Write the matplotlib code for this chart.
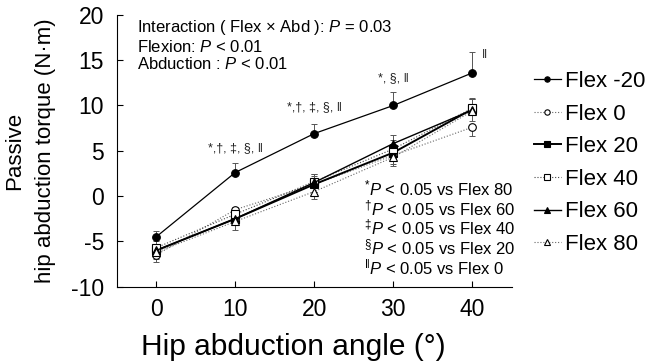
import numpy as np
import matplotlib.pyplot as plt

plt.rcParams['font.family'] = ['Liberation Sans', 'DejaVu Sans']
plt.rcParams['mathtext.fontset'] = 'custom'
plt.rcParams['mathtext.rm'] = 'Liberation Sans'
plt.rcParams['mathtext.it'] = 'Liberation Sans:italic'
plt.rcParams['axes.unicode_minus'] = False

angles = [0, 10, 20, 30, 40]
series = ["Flex -20", "Flex 0", "Flex 20", "Flex 40", "Flex 60", "Flex 80"]

# mean torque (N·m) per flexion condition
means = {
    "Flex -20": [-4.5, 2.6, 6.9, 10.0, 13.6],
    "Flex 0": [-6.5, -1.5, 1.3, 4.5, 7.6],
    "Flex 20": [-6.0, -2.5, 1.3, 4.8, 9.6],
    "Flex 40": [-5.7, -2.0, 1.6, 5.2, 9.7],
    "Flex 60": [-6.0, -2.5, 1.5, 5.8, 9.5],
    "Flex 80": [-6.2, -2.8, 0.5, 4.3, 9.4],
}
# SD (only one side drawn)
sds = {
    "Flex -20": [0.6, 1.0, 1.1, 1.5, 2.3],
    "Flex 0": [0.8, 0.6, 0.9, 1.0, 1.0],
    "Flex 20": [0.7, 0.8, 0.9, 1.0, 1.1],
    "Flex 40": [0.7, 0.8, 0.8, 1.0, 1.1],
    "Flex 60": [0.7, 0.9, 0.9, 0.9, 1.2],
    "Flex 80": [0.7, 0.9, 0.8, 1.0, 1.1],
}
err_up = {"Flex -20": True, "Flex 0": False, "Flex 20": True,
          "Flex 40": True, "Flex 60": True, "Flex 80": False}

styles = {
    "Flex -20": dict(marker='o', mfc='black', ls='-', color='black', lw=0.9),
    "Flex 0": dict(marker='o', mfc='white', ls=':', color='#666666', lw=0.8),
    "Flex 20": dict(marker='s', mfc='black', ls='-', color='black', lw=1.4),
    "Flex 40": dict(marker='s', mfc='white', ls=':', color='#444444', lw=0.8),
    "Flex 60": dict(marker='^', mfc='black', ls='-', color='black', lw=1.0),
    "Flex 80": dict(marker='^', mfc='white', ls=':', color='#666666', lw=0.8),
}

sig_x = [10, 20, 30, 40]
sig_y = [4.6, 9.2, 12.4, 14.9]
sig_labels = ["*,†, ‡, §, ‖", "*,†, ‡, §, ‖", "*, §, ‖", "‖"]

fig = plt.figure(figsize=(6.48, 3.62), dpi=100)
ax = fig.add_axes([0.18, 0.208, 0.61, 0.751])

for name in series:
    st = styles[name]
    m = np.array(means[name])
    s = np.array(sds[name])
    if err_up[name]:
        yerr = [np.zeros_like(s), s]
    else:
        yerr = [s, np.zeros_like(s)]
    ax.errorbar(angles, m, yerr=yerr, fmt='none', ecolor='#555555',
                elinewidth=0.7, capsize=2, capthick=0.7, zorder=1)
    ax.plot(angles, m, marker=st['marker'], markerfacecolor=st['mfc'],
            markeredgecolor='black', markersize=5.5, markeredgewidth=0.8,
            linestyle=st['ls'], color=st['color'], lw=st['lw'], label=name,
            zorder=3)

for x, y, t in zip(sig_x, sig_y, sig_labels):
    ax.text(x if x < 40 else x + 1.2, y, t, ha='center' if x < 40 else 'left',
            va='bottom', fontsize=9, color='#222222')

ax.text(-2.4, 19.7, "Interaction ( Flex × Abd ): $\\it{P}$ = 0.03\n"
        "Flexion: $\\it{P}$ < 0.01\nAbduction : $\\it{P}$ < 0.01",
        fontsize=12, va='top', ha='left', linespacing=1.15)

ax.text(26.3, 1.9, "$^{*}$$\\it{P}$ < 0.05 vs Flex 80\n$^{†}$$\\it{P}$ < 0.05 vs Flex 60\n"
        "$^{‡}$$\\it{P}$ < 0.05 vs Flex 40\n$^{§}$$\\it{P}$ < 0.05 vs Flex 20\n"
        "$^{‖}$$\\it{P}$ < 0.05 vs Flex 0",
        fontsize=12, va='top', ha='left', linespacing=0.98)

ax.set_xlim(-5, 45)
ax.set_ylim(-10, 20)
ax.set_xticks(angles)
ax.set_yticks([-10, -5, 0, 5, 10, 15, 20])
ax.tick_params(direction='in', labelsize=16.5, length=4, width=0.8)
ax.tick_params(axis='y', pad=9)
ax.tick_params(axis='x', pad=8)
ax.spines['top'].set_visible(False)
ax.spines['right'].set_visible(False)
for sp in ['left', 'bottom']:
    ax.spines[sp].set_linewidth(0.8)
ax.set_xlabel("Hip abduction angle (°)", fontsize=21.5)
ax.xaxis.set_label_coords(0.446, -0.17)
ax.set_ylabel("Passive\nhip abduction torque (N·m)", fontsize=16,
              linespacing=1.6, labelpad=11)

ax.legend(loc='center left', bbox_to_anchor=(1.005, 0.455), frameon=False,
          fontsize=16, handlelength=1.2, labelspacing=0.52, handletextpad=0.2,
          markerscale=0.7)

fig.savefig("out.png", dpi=100)
